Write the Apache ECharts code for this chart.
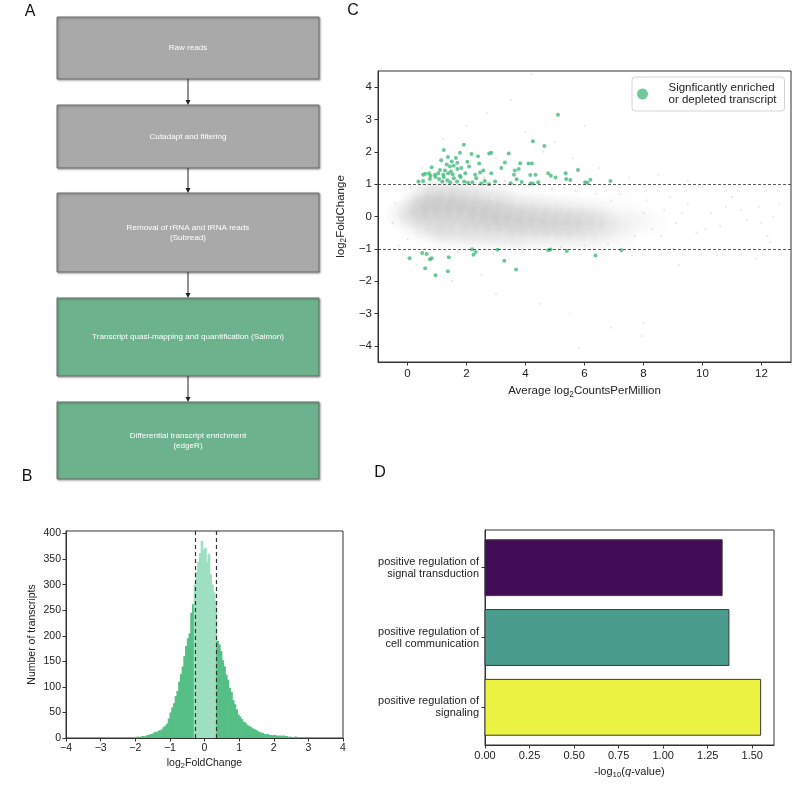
<!DOCTYPE html>
<html><head><meta charset="utf-8">
<script src="https://cdn.jsdelivr.net/npm/echarts@6/dist/echarts.min.js"></script>
<style>html,body{margin:0;padding:0;background:#fff}#c{width:800px;height:807px}</style>
</head><body><div id="c"></div><script>
// ---------------- DATA ----------------
const pipelineSteps = ['Raw reads', 'Cutadapt and filtering', 'Removal of rRNA and tRNA reads\n(Subread)',
  'Transcript quasi-mapping and quantification (Salmon)', 'Differential transcript enrichment\n(edgeR)'];
const pipelineKinds = ['prep', 'prep', 'prep', 'quant', 'quant'];

// Histogram (panel B): bins of width histBinWidth starting at histStart
const histStart = -2.5, histBinWidth = 0.05;
const histCounts = [
  1,0,1,1,0,1,1,2,1,2,
  2,3,2,3,4,3,5,6,7,8,
  9,12,11,14,15,17,21,24,28,38,
  50,60,68,82,92,110,125,140,160,180,
  195,205,245,262,300,325,345,362,386,368,
  372,345,360,320,300,285,268,190,183,170,
  152,140,124,114,98,90,74,66,56,46,
  42,37,32,30,26,24,22,19,18,16,
  14,12,11,10,8,7,8,6,6,5,
  6,5,4,5,4,5,3,4,2,3,
  2,2,3,1,2,1,1,1,1,2,
  1,1,1,0];
const histThresholds = [-0.28, 0.35];
const histXTicks = [-4,-3,-2,-1,0,1,2,3,4];
const histYTicks = [0,50,100,150,200,250,300,350,400];

// MA plot (panel C)
// dense grey background read as [avg log2CPM, log2FC, relative density]
const maCloud = [
  [-0.2,0.05,0.5],[0.2,0.15,0.8],[0.6,0.2,1],[1.0,0.2,1],[1.4,0.18,1],[1.8,0.15,1],[2.2,0.1,1],[2.6,0.05,1],
  [3.0,0.0,0.95],[3.4,-0.05,0.95],[3.8,-0.1,0.9],[4.2,-0.12,0.85],[4.6,-0.15,0.8],[5.0,-0.18,0.8],[5.4,-0.2,0.75],[5.8,-0.2,0.7],
  [6.2,-0.2,0.6],[6.6,-0.22,0.5],[7.0,-0.25,0.4],[7.4,-0.25,0.3],
  [0.3,0.5,0.55],[0.7,0.6,0.75],[1.1,0.62,0.8],[1.5,0.6,0.8],[1.9,0.58,0.75],[2.3,0.52,0.7],[2.7,0.45,0.7],[3.1,0.4,0.65],
  [3.5,0.35,0.6],[3.9,0.3,0.55],[4.3,0.28,0.55],[4.7,0.25,0.5],[5.1,0.2,0.5],[5.5,0.18,0.45],[5.9,0.15,0.4],[6.3,0.12,0.35],[6.7,0.08,0.3],
  [0.3,-0.25,0.5],[0.7,-0.3,0.7],[1.1,-0.32,0.75],[1.5,-0.35,0.75],[1.9,-0.38,0.7],[2.3,-0.4,0.7],[2.7,-0.42,0.65],[3.1,-0.45,0.65],
  [3.5,-0.5,0.6],[3.9,-0.52,0.55],[4.3,-0.55,0.55],[4.7,-0.55,0.5],[5.1,-0.58,0.45],[5.5,-0.58,0.45],[5.9,-0.6,0.4],[6.3,-0.6,0.35],[6.7,-0.6,0.3],
  [0.8,0.95,0.3],[1.6,0.95,0.35],[2.4,0.88,0.3],[3.2,0.78,0.25],[1.2,-0.72,0.3],[2.0,-0.78,0.3],[2.8,-0.8,0.25],[3.6,-0.85,0.2],
  [7.8,-0.1,0.25],[8.3,-0.2,0.15],[7.3,0.3,0.15],[7.3,-0.7,0.15]
];
const maSparse = [
  [8.0,0.1],[8.3,-0.4],[8.7,0.2],[9.1,-0.2],[9.5,0.4],[9.8,-0.5],[10.3,0.1],[10.6,-0.3],[11.0,0.6],[11.5,-0.1],
  [11.9,0.3],[12.2,-0.6],[12.4,0.0],[0.5,1.5],[1.2,2.4],[2.0,2.8],[2.7,3.2],[3.5,3.6],[4.2,4.4],[3.0,1.8],
  [4.0,2.6],[5.0,2.3],[5.6,1.8],[6.5,1.5],[7.5,1.2],[6.0,2.8],[8.5,1.3],[9.5,1.1],[-0.3,-0.9],[0.3,-1.5],
  [1.5,-2.0],[2.5,-1.8],[3.0,-2.4],[4.5,-2.7],[5.5,-3.0],[5.8,-4.06],[6.9,-3.44],[7.95,-3.7],[8.0,-3.3],[9.2,-1.5],
  [10.5,-1.2],[11.8,-1.3],[12.3,-0.8],[4.6,2.0],[5.3,0.9],[7.2,0.7],[8.9,0.6],[10.0,0.9],[9.0,-1.0],[7.6,-1.2],
  [0.1,0.9],[0.4,1.1],[1.3,1.3],[2.6,1.2],[3.3,1.1],[4.1,0.95],[4.9,0.85],[5.7,0.8],[6.4,0.7],[6.9,0.5],
  [0.0,-0.7],[0.6,-1.0],[1.7,-1.1],[2.9,-1.15],[3.9,-1.1],[4.4,-1.0],[5.2,-0.95],[6.0,-0.9],[6.8,-0.85],[7.7,-0.6],
  [-0.4,0.4],[-0.5,-0.2],[8.1,0.5],[8.6,-0.6],[9.3,0.1],[10.1,-0.4],[10.8,0.3],[11.3,0.2],[12.0,-0.2],[12.6,0.4]
];
const maSignificant = [
  [4.25,2.33],[4.64,2.18],[1.91,2.22],[1.23,2.06],[1.78,1.97],[2.17,1.93],[2.39,1.86],[1.37,1.84],[1.64,1.81],[2.77,1.95],
  [2.84,1.97],[3.43,1.95],[1.14,1.74],[1.50,1.70],[1.69,1.66],[2.03,1.69],[2.43,1.64],[3.30,1.67],[3.82,1.65],[4.10,1.64],
  [4.22,1.64],[0.82,1.52],[1.33,1.61],[1.44,1.55],[1.57,1.57],[1.82,1.50],[2.09,1.55],[2.57,1.42],[3.18,1.50],[3.64,1.42],
  [3.77,1.47],[5.78,1.44],[1.10,1.44],[1.27,1.42],[1.47,1.39],[1.69,1.47],[0.53,1.29],[0.60,1.32],[0.73,1.34],[0.78,1.26],
  [0.93,1.29],[1.04,1.34],[1.21,1.29],[1.38,1.34],[1.53,1.31],[1.78,1.26],[1.96,1.34],[2.29,1.29],[2.46,1.36],[2.84,1.34],
  [3.61,1.29],[4.16,1.28],[4.34,1.29],[4.77,1.34],[4.86,1.26],[5.02,1.21],[5.36,1.34],[5.38,1.16],[5.52,1.13],[6.20,1.14],
  [6.88,1.10],[0.37,1.08],[0.53,1.10],[0.76,1.16],[0.95,1.22],[1.07,1.16],[1.18,1.08],[1.23,1.22],[1.35,1.12],[1.45,1.06],
  [1.57,1.18],[1.68,1.08],[1.80,1.22],[1.92,1.08],[2.05,1.04],[2.20,1.06],[2.33,1.18],[2.50,1.02],[2.62,1.10],[2.76,1.00],
  [2.97,1.08],[3.50,1.03],[3.70,1.15],[3.87,1.07],[4.17,1.02],[4.25,1.02],[4.43,1.06],[6.10,1.04],[6.02,1.06],[5.10,3.15],
  [0.07,-1.29],[0.50,-1.13],[0.65,-1.16],[0.76,-1.32],[0.82,-1.29],[0.60,-1.60],[0.95,-1.82],[1.37,-1.69],[1.40,-1.26],[2.19,-1.01],
  [2.31,-1.10],[2.24,-1.18],[3.05,-1.03],[3.28,-1.37],[3.68,-1.64],[4.77,-1.04],[4.85,-1.02],[5.40,-1.07],[6.37,-1.21],[7.25,-1.04]
];
const maFoldThresholds = [1, -1];
const maXTicks = [0,2,4,6,8,10,12];
const maYTicks = [-4,-3,-2,-1,0,1,2,3,4];
const sigName = 'Signficantly enriched\nor depleted transcript';

// GO enrichment (panel D), top to bottom
const goTerms = ['positive regulation of\nsignal transduction', 'positive regulation of\ncell communication', 'positive regulation of\nsignaling'];
const goValues = [1.331, 1.369, 1.547];
const goColors = ['#430c57', '#4a9d8c', '#ebf241'];
const goXTicks = [0, 0.25, 0.5, 0.75, 1.0, 1.25, 1.5];

// ---------------- CHART ----------------
const FONT = 'Liberation Sans, Arial, Helvetica, sans-serif';
const AX = '#333';
const TXT = '#222';
const minus = v => String(v).replace('-', '\u2212');
function rich(fs) {
  return {s: {fontSize: fs * 0.72, fontFamily: FONT, color: TXT, padding: [fs * 0.55, 0, 0, 0]},
          i: {fontSize: fs, fontFamily: FONT, color: TXT, fontStyle: 'italic'}};
}

function axis(o, fs) {
  const base = {
    axisLine: {show: true, onZero: false, lineStyle: {color: AX, width: 1}},
    splitLine: {show: false},
    nameTextStyle: {color: TXT, fontSize: fs, fontFamily: FONT, rich: rich(fs)}
  };
  const ticks = o.ticks; delete o.ticks;
  const lab = Object.assign({color: TXT, fontSize: fs, fontFamily: FONT, margin: 5, customValues: ticks}, o.label || {});
  delete o.label;
  base.axisLabel = lab;
  base.axisTick = {show: true, length: 3.5, lineStyle: {color: AX, width: 1}, customValues: ticks};
  return Object.assign(base, o);
}

// Panel A flowchart graphics
const boxLayout = [{top: 17, h: 62}, {top: 105, h: 63}, {top: 193, h: 79}, {top: 298, h: 78}, {top: 402, h: 77}];
const boxLeft = 57, boxWidth = 262, arrowX = 188;
const kindColor = {prep: '#a9a9a9', quant: '#6cb28c'};
const graphics = [];
pipelineSteps.forEach((s, i) => {
  const L = boxLayout[i];
  graphics.push({type: 'rect', shape: {x: boxLeft, y: L.top, width: boxWidth, height: L.h},
    style: {fill: kindColor[pipelineKinds[i]], stroke: '#6e6e6e', lineWidth: 1,
      shadowBlur: 2, shadowOffsetX: 1, shadowOffsetY: 1, shadowColor: 'rgba(0,0,0,0.35)'}});
  graphics.push({type: 'text', style: {text: s, x: boxLeft + boxWidth / 2, y: L.top + L.h / 2,
    align: 'center', verticalAlign: 'middle', fill: '#fff', fontSize: 8.1, fontFamily: FONT, lineHeight: 10}});
  if (i > 0) {
    const p = boxLayout[i - 1];
    const y0 = p.top + p.h, y1 = L.top;
    graphics.push({type: 'line', shape: {x1: arrowX, y1: y0, x2: arrowX, y2: y1 - 4}, style: {stroke: '#222', lineWidth: 1}});
    graphics.push({type: 'polygon', shape: {points: [[arrowX - 2.5, y1 - 5], [arrowX + 2.5, y1 - 5], [arrowX, y1]]}, style: {fill: '#222'}});
  }
});
[['A', 30, 12], ['B', 27, 477], ['C', 353, 11], ['D', 380, 473]].forEach(([t, x, y]) => {
  graphics.push({type: 'text', style: {text: t, x: x, y: y, align: 'center', verticalAlign: 'middle',
    fill: '#111', fontSize: 16, fontFamily: FONT}});
});

const histData = histCounts.map((c, i) => [histStart + i * histBinWidth, histStart + (i + 1) * histBinWidth, c]);

const chart = echarts.init(document.getElementById('c'), null, {renderer: 'canvas'});
chart.setOption({
  animation: false,
  backgroundColor: '#fff',
  graphic: graphics,
  legend: {
    data: [{name: sigName, icon: 'circle', itemStyle: {color: '#4cbb7f'}}],
    left: 632, top: 77, orient: 'vertical',
    padding: [5, 8, 5, 5], itemWidth: 22, itemHeight: 11,
    borderColor: '#d4d4d4', borderWidth: 1, borderRadius: 3, backgroundColor: '#fff',
    textStyle: {color: TXT, fontSize: 11.5, fontFamily: FONT, lineHeight: 12, padding: [0, 0, 0, 10]},
    selectedMode: false
  },
  grid: [
    {left: 66, top: 531, width: 277, height: 207, show: true, borderColor: AX, borderWidth: 1},
    {left: 378, top: 71, width: 413, height: 291, show: true, borderColor: AX, borderWidth: 1},
    {left: 485, top: 530, width: 289, height: 215, show: true, borderColor: AX, borderWidth: 1}
  ],
  xAxis: [
    axis({gridIndex: 0, type: 'value', min: -4, max: 4, ticks: histXTicks, label: {formatter: minus},
      name: 'log{s|2}FoldChange', nameLocation: 'middle', nameGap: 18}, 10.5),
    axis({gridIndex: 1, type: 'value', min: -1, max: 13, ticks: maXTicks, label: {formatter: minus, margin: 6},
      name: 'Average log{s|2}CountsPerMillion', nameLocation: 'middle', nameGap: 22}, 11.5),
    axis({gridIndex: 2, type: 'value', min: 0, max: 1.622, ticks: goXTicks, label: {formatter: v => v.toFixed(2)},
      name: '-log{s|10}({i|q}-value)', nameLocation: 'middle', nameGap: 20}, 11)
  ],
  yAxis: [
    axis({gridIndex: 0, type: 'value', min: 0, max: 405, ticks: histYTicks,
      name: 'Number of transcripts', nameLocation: 'middle', nameGap: 28}, 10.5),
    axis({gridIndex: 1, type: 'value', min: -4.5, max: 4.5, ticks: maYTicks, label: {formatter: minus, margin: 6},
      name: 'log{s|2}FoldChange', nameLocation: 'middle', nameGap: 22}, 11.5),
    axis({gridIndex: 2, type: 'value', min: -0.54, max: 2.54, inverse: true, ticks: [0, 1, 2],
      label: {margin: 6, align: 'right', lineHeight: 12, formatter: v => goTerms[Math.round(v)]}}, 11)
  ],
  series: [
    {
      type: 'custom', xAxisIndex: 0, yAxisIndex: 0, data: histData,
      encode: {x: [0, 1], y: 2},
      renderItem: (params, api) => {
        const x0 = api.value(0), x1 = api.value(1), c = api.value(2);
        const a = api.coord([x0, c]), b = api.coord([x1, 0]);
        const mid = (x0 + x1) / 2;
        const inside = mid >= histThresholds[0] && mid <= histThresholds[1];
        const col = inside ? '#9fdfc1' : '#55bf85';
        return {type: 'rect', shape: {x: a[0] - 0.4, y: a[1], width: b[0] - a[0] + 1, height: b[1] - a[1]},
          style: {fill: col}};
      },
      markLine: {silent: true, symbol: 'none', label: {show: false},
        lineStyle: {color: '#333', type: [4, 3], width: 1.2},
        data: histThresholds.map(t => ({xAxis: t}))}
    },
    {
      type: 'scatter', name: 'cloud', xAxisIndex: 1, yAxisIndex: 1, data: maCloud,
      symbolSize: 36, silent: true,
      itemStyle: {color: p => ({type: 'radial', x: 0.5, y: 0.5, r: 0.5, colorStops: [
        {offset: 0, color: 'rgba(130,130,130,' + (0.3 * p.value[2]).toFixed(3) + ')'},
        {offset: 0.5, color: 'rgba(130,130,130,' + (0.16 * p.value[2]).toFixed(3) + ')'},
        {offset: 1, color: 'rgba(130,130,130,0)'}]})},
      markLine: {silent: true, symbol: 'none', label: {show: false},
        lineStyle: {color: '#333', type: [3, 2], width: 0.8},
        data: maFoldThresholds.map(t => ({yAxis: t}))}
    },
    {
      type: 'scatter', name: 'sparse', xAxisIndex: 1, yAxisIndex: 1, data: maSparse,
      symbolSize: 2.2, itemStyle: {color: 'rgba(160,160,160,0.3)'}, silent: true
    },
    {
      type: 'scatter', name: sigName, xAxisIndex: 1, yAxisIndex: 1, data: maSignificant,
      symbolSize: 4, itemStyle: {color: '#44bb7c'}
    },
    {
      type: 'custom', xAxisIndex: 2, yAxisIndex: 2,
      data: goValues.map((v, i) => [i, v]),
      encode: {x: 1, y: 0},
      renderItem: (params, api) => {
        const i = api.value(0), v = api.value(1);
        const a = api.coord([0, i - 0.4]), b = api.coord([v, i + 0.4]);
        return {type: 'rect', shape: {x: a[0], y: Math.min(a[1], b[1]), width: b[0] - a[0], height: Math.abs(b[1] - a[1])},
          style: {fill: goColors[i], stroke: '#3a3a3a', lineWidth: 1}};
      }
    }
  ]
});
</script></body></html>
